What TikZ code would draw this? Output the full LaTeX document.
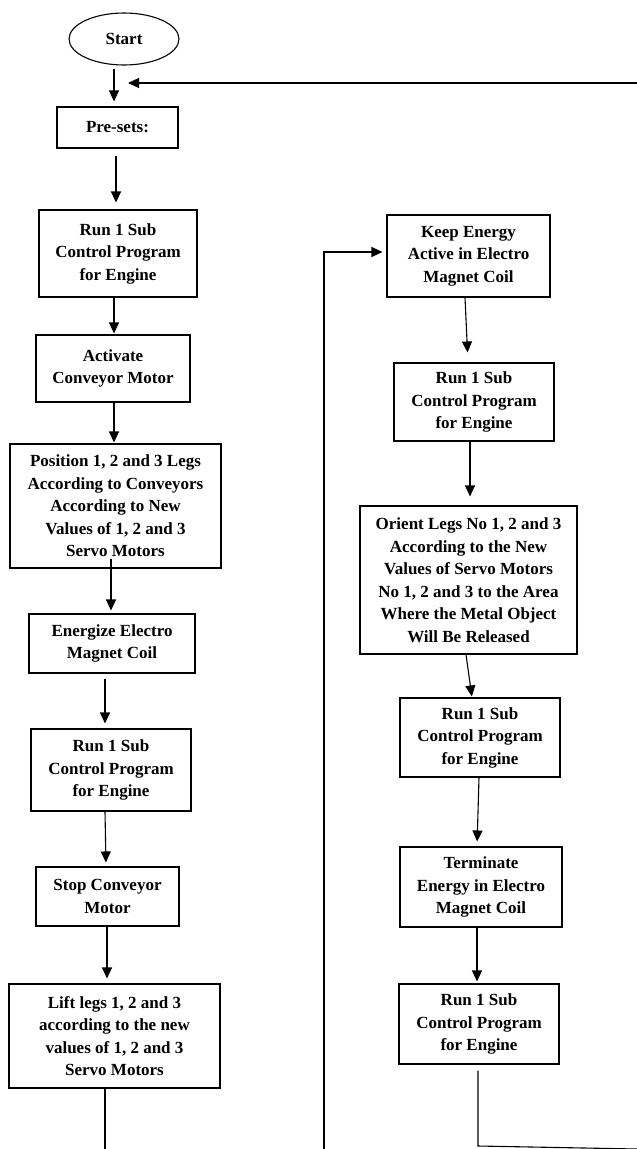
\documentclass[tikz,border=0pt]{standalone}
\usepackage{fontspec}
\setmainfont{Liberation Serif}
\usetikzlibrary{shapes.geometric,arrows.meta}
\tikzset{
  stepbox/.style={draw, line width=1.1pt, align=center, inner sep=0pt,
    font=\fontsize{17}{22.5}\selectfont\bfseries},
  flow/.style={line width=1.1pt, -{Triangle[width=10pt,length=11pt]}},
  wire/.style={line width=1.1pt},
}
\begin{document}
\begin{tikzpicture}[x=1pt,y=-1pt]
  \useasboundingbox (0,0) rectangle (637,1149);
  % left column
  \node[stepbox, ellipse, minimum width=110pt, minimum height=52pt] (start) at (124,39) {Start};
  \node[stepbox, minimum width=121pt, minimum height=41pt] (pre) at (117.5,127.5) {Pre-sets:};
  \node[stepbox, minimum width=158pt, minimum height=87pt] (run1) at (118,253.5) {Run 1 Sub\\Control Program\\for Engine};
  \node[stepbox, minimum width=154pt, minimum height=67pt] (act) at (113,368.5) {Activate\\Conveyor Motor};
  \node[stepbox, minimum width=211pt, minimum height=124pt] (pos) at (115.5,506) {Position 1, 2 and 3 Legs\\According to Conveyors\\According to New\\Values of 1, 2 and 3\\Servo Motors};
  \node[stepbox, minimum width=166pt, minimum height=59pt] (ener) at (112,643.5) {Energize Electro\\Magnet Coil};
  \node[stepbox, minimum width=160pt, minimum height=82pt] (run2) at (111,770) {Run 1 Sub\\Control Program\\for Engine};
  \node[stepbox, minimum width=143pt, minimum height=59pt] (stop) at (107.5,896.5) {Stop Conveyor\\Motor};
  \node[stepbox, minimum width=211pt, minimum height=104pt] (lift) at (114.5,1036) {Lift legs 1, 2 and 3\\according to the new\\values of 1, 2 and 3\\Servo Motors};
  % right column
  \node[stepbox, minimum width=163pt, minimum height=82pt] (keep) at (468.5,256) {Keep Energy\\Active in Electro\\Magnet Coil};
  \node[stepbox, minimum width=160pt, minimum height=78pt] (run3) at (474,402) {Run 1 Sub\\Control Program\\for Engine};
  \node[stepbox, minimum width=217pt, minimum height=148pt] (orient) at (468.5,580) {Orient Legs No 1, 2 and 3\\According to the New\\Values of Servo Motors\\No 1, 2 and 3 to the Area\\Where the Metal Object\\Will Be Released};
  \node[stepbox, minimum width=160pt, minimum height=79pt] (run4) at (480,737.5) {Run 1 Sub\\Control Program\\for Engine};
  \node[stepbox, minimum width=162pt, minimum height=80pt] (term) at (481,887) {Terminate\\Energy in Electro\\Magnet Coil};
  \node[stepbox, minimum width=160pt, minimum height=80pt] (run5) at (479,1024) {Run 1 Sub\\Control Program\\for Engine};
  % free ends at the page edges
  \coordinate (backin) at (637,83);
  \coordinate (backtip) at (128,83);
  \coordinate (liftout) at (105,1149);
  \coordinate (loopin) at (324,1149);
  \coordinate (runout) at (637,1149);
  % left column arrows
  \draw[flow, shorten <=3pt, shorten >=5pt] ([xshift=-10pt]start.south) -- ([xshift=-3.5pt]pre.north);
  \draw[flow, shorten <=7pt, shorten >=7pt] ([xshift=-1.5pt]pre.south) -- ([xshift=-2pt]run1.north);
  \draw[flow, shorten >=1pt] ([xshift=-4pt]run1.south) -- ([xshift=1pt]act.north);
  \draw[flow, shorten >=1pt] ([xshift=1pt]act.south) -- ([xshift=-1.5pt]pos.north);
  \draw[flow, shorten <=-10pt, shorten >=3pt] ([xshift=-4.5pt]pos.south) -- ([xshift=-1pt]ener.north);
  \draw[flow, shorten <=5pt, shorten >=5pt] ([xshift=-7pt]ener.south) -- ([xshift=-6pt]run2.north);
  \draw[flow, shorten >=4pt] ([xshift=-6pt]run2.south) -- ([xshift=-1.5pt]stop.north);
  \draw[flow, shorten >=5pt] ([xshift=-0.5pt]stop.south) -- ([xshift=-7.5pt]lift.north);
  \draw[wire] ([xshift=-9.5pt]lift.south) -- (liftout);
  % right column arrows
  \draw[flow, shorten >=10pt] ([xshift=-3.5pt]keep.south) -- ([xshift=-6pt]run3.north);
  \draw[flow, shorten >=9pt] ([xshift=-4pt]run3.south) -- ([xshift=1.5pt]orient.north);
  \draw[flow, shorten >=1pt] ([xshift=-2.5pt]orient.south) -- ([xshift=-8pt]run4.north);
  \draw[flow, shorten >=5pt] ([xshift=-1pt]run4.south) -- ([xshift=-4pt]term.north);
  \draw[flow, shorten >=2pt] ([xshift=-4pt]term.south) -- ([xshift=-2pt]run5.north);
  \draw[wire, shorten <=6pt] ([xshift=-1pt]run5.south) |- (478,1146) -- (runout);
  % loops
  \draw[flow, shorten >=4pt] (loopin) |- ([yshift=4pt]keep.west);
  \draw[flow] (backin) -- (backtip);
\end{tikzpicture}
\end{document}
